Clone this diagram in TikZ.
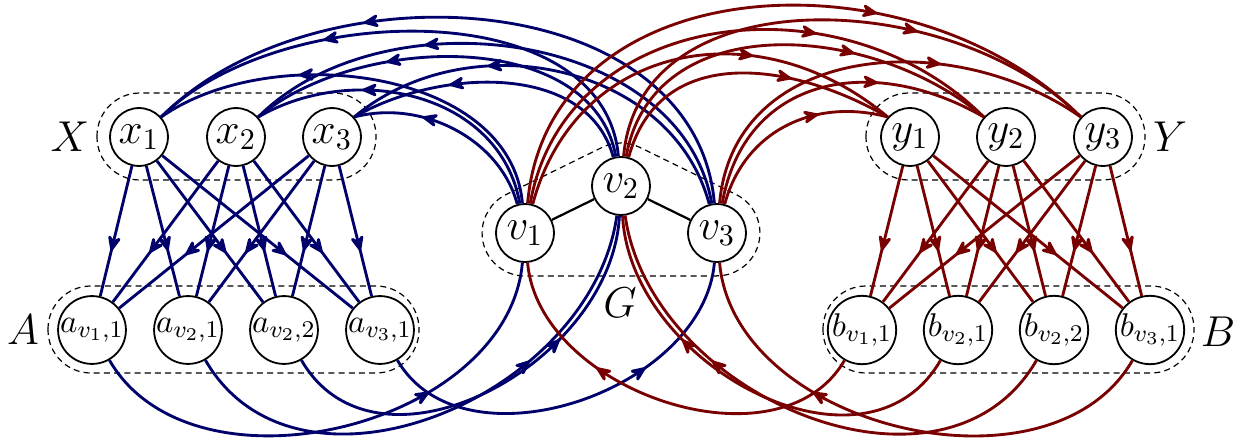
\documentclass[tikz,border=0pt]{standalone}
\usepackage{amsmath}
\usepackage{xcolor}
\usetikzlibrary{arrows.meta, decorations.markings, positioning}

\colorlet{bluearc}{blue!42!black}
\colorlet{redarc}{red!47!black}

\tikzset{
  vtx/.style={circle, draw, line width=0.6pt, fill=white, minimum size=19.3pt, inner sep=0pt, font=\Large},
  subvtx/.style={font=\normalsize\fontsize{10.95}{13}\selectfont},
  setname/.style={font=\Large},
  group/.style={line width=0.4pt, dash pattern=on 2pt off 1.4pt},
  midarrow/.style={postaction={decorate}, decoration={markings, mark=at position #1 with {\arrow{Stealth[length=6.6pt, width=5.6pt, inset=2.4pt, round]}}}},
  bluee/.style={draw=bluearc, line width=0.95pt, bluearc},
  rede/.style={draw=redarc, line width=0.95pt, redarc},
}

\begin{document}
\begin{tikzpicture}[x=0.3333pt, y=-0.3333pt]
    \useasboundingbox (0,0) rectangle (1245,438);

    % dashed groups
    \draw[group, rounded corners=14.3pt] (97,93) rectangle (376,180);
    \draw[group, rounded corners=14.3pt] (866,93) rectangle (1145,180);
    \draw[group, rounded corners=14.3pt] (48,286) rectangle (419,373);
    \draw[group, rounded corners=14.3pt] (823,286) rectangle (1194,373);
    \draw[group] (717,276) -- (525,276) arc[start angle=-90, end angle=-243.9, radius=14.3pt]
        -- (602.1,147.4) arc[start angle=116.1, end angle=63.9, radius=14.3pt]
        -- (735.9,194.4) arc[start angle=63.9, end angle=-90, radius=14.3pt] -- cycle;

    \begin{scope}[every node/.style={vtx}]
    \node (x1) at (139,137) {$x_1$};
    \node (x2) at (236,137) {$x_2$};
    \node (x3) at (332,137) {$x_3$};
    \node (y1) at (910,137) {$y_1$};
    \node (y2) at (1006,137) {$y_2$};
    \node (y3) at (1103,137) {$y_3$};

    \node (v1) at (525,233) {$v_1$};
    \node (v2) at (621,186) {$v_2$};
    \node (v3) at (717,233) {$v_3$};

    \node[subvtx] (a1) at (92,330) {$a_{v_1,1}$};
    \node[subvtx] (a2) at (188,330) {$a_{v_2,1}$};
    \node[subvtx] (a3) at (284,330) {$a_{v_2,2}$};
    \node[subvtx] (a4) at (380,330) {$a_{v_3,1}$};
    \node[subvtx] (b1) at (862,330) {$b_{v_1,1}$};
    \node[subvtx] (b2) at (958,330) {$b_{v_2,1}$};
    \node[subvtx] (b3) at (1054,330) {$b_{v_2,2}$};
    \node[subvtx] (b4) at (1150,330) {$b_{v_3,1}$};
    \end{scope}

    \node[setname] (X) at (70,137) {$X$};
    \node[setname] (Y) at (1170,137) {$Y$};
    \node[setname] (A) at (23,330) {$A$};
    \node[setname] (B) at (1218,332) {$B$};
    \node[setname] (G) at (620,303) {$G$};

    \draw[line width=0.75pt] (v1) -- (v2);
    \draw[line width=0.75pt] (v2) -- (v3);

    % X -> A and Y -> B
    \foreach \i in {1,2,3}
      \foreach \j in {1,...,4} {
        \draw[bluee, midarrow=0.65] (x\i) -- (a\j);
        \draw[rede, midarrow=0.65] (y\i) -- (b\j);
      }

    % G -> X
    \foreach \v/\va/\x/\ang/\lo in {v3/95/x1/45/1.0, v2/95/x1/45/0.92, v1/95/x1/35/0.93,
        v3/100/x2/45/0.98, v2/100/x2/40/0.93, v1/100/x2/30/1.04,
        v3/105/x3/40/1.03, v2/105/x3/30/0.96, v1/105/x3/15/0.95}
      \draw[bluee, midarrow=0.66] (\v.\va) to[out=\va, in=\ang, looseness=\lo] (\x.42);

    % G -> Y
    \foreach \v/\va/\y/\ang/\lo in {v1/85/y3/135/1.09, v2/85/y3/135/1.02, v3/85/y3/145/1.1,
        v1/80/y2/135/1.11, v2/80/y2/140/1.07, v3/80/y2/150/1.2,
        v1/75/y1/140/1.18, v2/75/y1/150/1.13, v3/75/y1/165/1.05}
      \draw[rede, midarrow=0.66] (\v.\va) to[out=\va, in=\ang, looseness=\lo] (\y.138);

    % A -> G
    \draw[bluee, midarrow=0.68] (a1.-60) to[out=-60, in=-95] (v1.-95);
    \draw[bluee, midarrow=0.68] (a2.-60) to[out=-60, in=-98, looseness=1.08] (v2.-98);
    \draw[bluee, midarrow=0.68] (a3.-60) to[out=-60, in=-93, looseness=1.1] (v2.-93);
    \draw[bluee, midarrow=0.68] (a4.-60) to[out=-60, in=-95] (v3.-95);

    % B -> G
    \draw[rede, midarrow=0.68] (b4.-120) to[out=-120, in=-85] (v3.-85);
    \draw[rede, midarrow=0.68] (b3.-120) to[out=-120, in=-82, looseness=1.08] (v2.-82);
    \draw[rede, midarrow=0.68] (b2.-120) to[out=-120, in=-87, looseness=1.1] (v2.-87);
    \draw[rede, midarrow=0.68] (b1.-120) to[out=-120, in=-85] (v1.-85);
\end{tikzpicture}
\end{document}
